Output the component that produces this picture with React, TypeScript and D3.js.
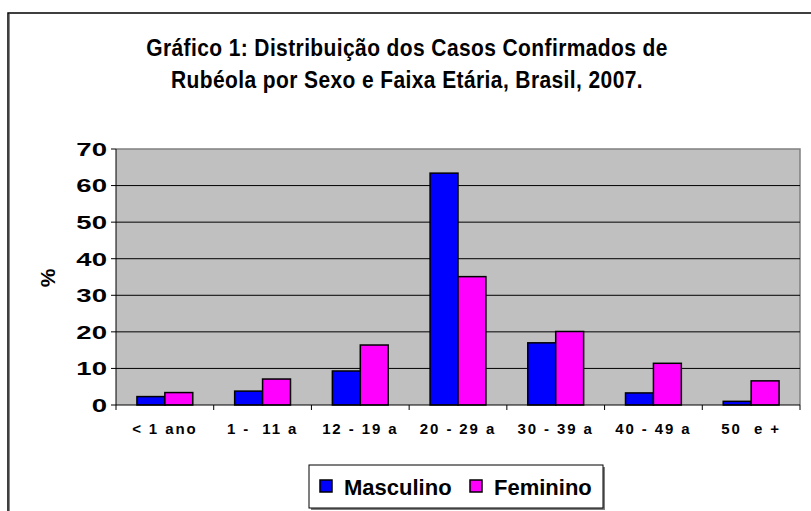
import React from 'react';
import {scaleBand, scaleLinear} from 'd3';

const categories = ['< 1 ano', '1 -  11 a', '12 - 19 a', '20 - 29 a', '30 - 39 a', '40 - 49 a', '50  e +'];
const masculino = [2.3, 3.8, 9.3, 63.4, 17.0, 3.3, 1.0];
const feminino = [3.4, 7.1, 16.4, 35.1, 20.1, 11.4, 6.6];
const seriesNames = ['Masculino', 'Feminino'];
const seriesColors = ['#0000FF', '#FF00FF'];
const yTicks = [0, 10, 20, 30, 40, 50, 60, 70];
const titleLines = ['Gráfico 1: Distribuição dos Casos Confirmados de', 'Rubéola por Sexo e Faixa Etária, Brasil, 2007.'];

const W = 811;
const H = 511;
const plot = {l: 116, r: 800, t: 149, b: 405};
const font = '"Liberation Sans", Arial, sans-serif';

const x = scaleBand<string>().domain(categories).range([plot.l, plot.r]);
const xInner = scaleBand<string>().domain(seriesNames).range([0, x.bandwidth()]).paddingOuter(0.75);
const y = scaleLinear().domain([0, 70]).range([plot.b, plot.t]);

export default function App() {
	const data = [masculino, feminino];
	return (
		<div style={{position: 'absolute', left: 0, top: 0}}>
			<svg width={W} height={H} style={{display: 'block', fontFamily: font}}>
				<rect x={0} y={0} width={W} height={H} fill='#fff' />
				{/* outer chart frame */}
				<rect x={8} y={13} width={W + 20} height={H + 20} fill='none' stroke='#000' strokeWidth={1.5} />
				<line x1={9.5} y1={14} x2={9.5} y2={H} stroke='#888' strokeWidth={1} />

				{titleLines.map((t, i) =>
					<text key={i} x={0} y={0} textAnchor='middle' fontWeight='bold' fontSize={21}
						letterSpacing={0.4} transform={`translate(407,${56 + i * 32}) scale(1,1.15)`}>{t}</text>
				)}

				{/* plot area */}
				<rect x={plot.l} y={plot.t} width={plot.r - plot.l} height={plot.b - plot.t} fill='#C0C0C0' />
				<polyline points={`${plot.l},${plot.t} ${plot.r},${plot.t} ${plot.r},${plot.b}`} fill='none' stroke='#808080' strokeWidth={1.5} />
				{yTicks.filter(d => d > 0 && d < 70).map(d =>
					<line key={d} x1={plot.l} x2={plot.r} y1={y(d)} y2={y(d)} stroke='#000' strokeWidth={1} />
				)}

				{categories.map((c, i) =>
					<g key={c} transform={`translate(${x(c)},0)`}>
						{data.map((s, j) =>
							<rect key={j}
								x={xInner(seriesNames[j])}
								y={y(s[i])}
								width={xInner.bandwidth()}
								height={y(0) - y(s[i])}
								fill={seriesColors[j]}
								stroke='#000'
								strokeWidth={1.5}
							/>
						)}
					</g>
				)}

				{/* axes */}
				<line x1={plot.l} x2={plot.l} y1={plot.t} y2={plot.b} stroke='#000' strokeWidth={1} />
				<line x1={plot.l} x2={plot.r} y1={plot.b} y2={plot.b} stroke='#000' strokeWidth={1} />
				{yTicks.map(d =>
					<g key={d}>
						<line x1={plot.l - 5} x2={plot.l} y1={y(d)} y2={y(d)} stroke='#000' />
						<text x={107} y={y(d)} dy='0.36em' textAnchor='end' fontWeight='bold' fontSize={19}
							transform={`translate(107,0) scale(1.45,1) translate(-107,0)`}>{d}</text>
					</g>
				)}
				{categories.concat(['']).map((c, i) => {
					const xv = plot.l + i * x.step();
					return <line key={i} x1={xv} x2={xv} y1={plot.b} y2={plot.b + 5} stroke='#000' />;
				})}
				{categories.map(c =>
					<text key={c} x={x(c)! + x.bandwidth() / 2} y={434} textAnchor='middle' fontWeight='bold' fontSize={15}
						letterSpacing={1.9} style={{whiteSpace: 'pre'}}>{c}</text>
				)}
				<text transform='translate(55,278) rotate(-90)' textAnchor='middle' fontWeight='bold' fontSize={21}>%</text>

				{/* legend */}
				<rect x={311} y={467} width={294} height={43} fill='#808080' />
				<rect x={309} y={465} width={294} height={43} fill='#fff' stroke='#000' strokeWidth={1} />
				{seriesNames.map((n, j) =>
					<g key={n} transform={`translate(${j === 0 ? 320 : 470},0)`}>
						<rect x={0} y={480} width={12} height={12} fill={seriesColors[j]} stroke='#000' strokeWidth={1.5} />
						<text x={24} y={495} fontWeight='bold' fontSize={22}>{n}</text>
					</g>
				)}
			</svg>
		</div>
	);
}
